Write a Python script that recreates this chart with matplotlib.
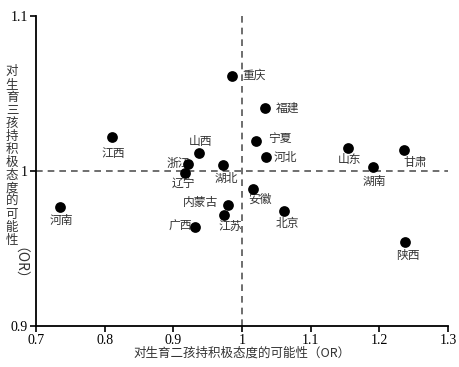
import matplotlib
matplotlib.use("Agg")
import matplotlib.pyplot as plt

provinces = ["重庆", "福建", "宁夏", "河北", "山东", "甘肃", "湖南", "湖北", "江西", "山西",
             "浙江", "辽宁", "河南", "广西", "内蒙古", "江苏", "安徽", "北京", "陕西"]
or_second = [0.986, 1.0335, 1.020, 1.035, 1.1548, 1.2354, 1.1903, 0.9728, 0.810, 0.9374,
             0.9209, 0.9165, 0.7345, 0.932, 0.979, 0.974, 1.0156, 1.0616, 1.2378]
or_third = [1.0615, 1.0408, 1.0191, 1.0092, 1.0148, 1.0137, 1.0024, 1.0039, 1.0217, 1.0114,
            1.0045, 0.9985, 0.977, 0.964, 0.978, 0.9716, 0.9884, 0.9744, 0.954]
x_ticks = [0.7, 0.8, 0.9, 1.0, 1.1, 1.2, 1.3]
x_ticklabels = ["0.7", "0.8", "0.9", "1", "1.1", "1.2", "1.3"]
y_ticks = [0.9, 1.0, 1.1]
y_ticklabels = ["0.9", "1", "1.1"]
x_label = "对生育二孩持积极态度的可能性（OR）"
y_label_cn = "对生育三孩持积极态度的可能性"
y_label_or = "（OR）"

# label offsets in pixels (dx, dy), horizontal alignment
label_pos = {
    "重庆": (10, 0, "left"), "福建": (11, 0, "left"), "宁夏": (12, 3, "left"),
    "河北": (8, -1, "left"), "山东": (1, -11, "center"), "甘肃": (12, -13, "center"),
    "湖南": (2, -14, "center"), "湖北": (3, -13, "center"), "江西": (2, -16, "center"),
    "山西": (2, 12, "center"), "浙江": (2, 0, "right"), "辽宁": (-1, -10, "center"),
    "河南": (2, -14, "center"), "广西": (-3, 0, "right"), "内蒙古": (-9, 2, "right"),
    "江苏": (6, -12, "center"), "安徽": (7, -10, "center"), "北京": (3, -13, "center"),
    "陕西": (3, -13, "center"),
}

cjk = ["Noto Sans CJK SC", "DejaVu Sans"]
serif = ["Liberation Serif", "DejaVu Serif"]

fig = plt.figure(figsize=(4.59, 3.67), dpi=100)
ax = fig.add_axes([0.0784, 0.1125, 0.8976, 0.8435])

ax.axvline(1.0, color="#555555", lw=1.2, ls=(0, (4, 3)), zorder=1)
ax.axhline(1.0, color="#555555", lw=1.2, ls=(0, (4, 3)), zorder=1)

for name, xv, yv in zip(provinces, or_second, or_third):
    dx, dy, ha = label_pos[name]
    ax.annotate(name, (xv, yv), xytext=(dx, dy), textcoords="offset pixels",
                ha=ha, va="center", fontsize=8.5, family=cjk, color="#333333", zorder=2)
ax.scatter(or_second, or_third, s=60, color="black", zorder=3, linewidths=0)

ax.set_xlim(0.7, 1.3)
ax.set_ylim(0.9, 1.1)
ax.set_xticks(x_ticks)
ax.set_xticklabels(x_ticklabels, family=serif, fontsize=10)
ax.set_yticks(y_ticks)
ax.set_yticklabels(y_ticklabels, family=serif, fontsize=10)
ax.tick_params(direction="out", length=4, width=1.2, pad=2)
for s in ["top", "right"]:
    ax.spines[s].set_visible(False)
for s in ["left", "bottom"]:
    ax.spines[s].set_linewidth(1.3)

fig.text(242 / 459, 1 - 353 / 367, x_label, ha="center", va="center",
         fontsize=9, family=cjk, color="#333333")
fig.text(12 / 459, 1 - 156 / 367, "\n".join(y_label_cn), ha="center", va="center",
         fontsize=9, family=cjk, color="#333333", linespacing=1.0)
fig.text(12 / 459, 1 - 270 / 367, y_label_or, ha="center", va="center", rotation=270,
         fontsize=10, family=cjk, color="#333333")

fig.savefig("out.png", dpi=100)
